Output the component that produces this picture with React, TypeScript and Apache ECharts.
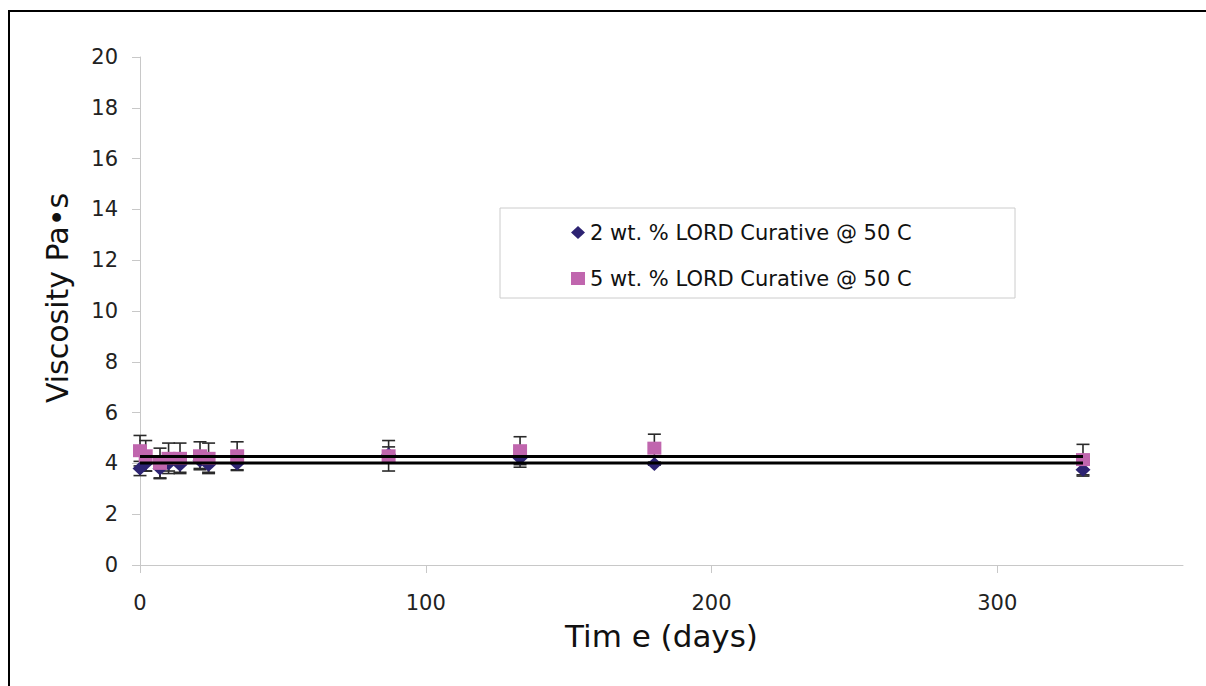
import React, { useEffect, useRef } from "react";
import * as echarts from "echarts";

// ---- data ----
const days = [0, 2, 7, 10, 14, 21, 24, 34, 87, 133, 180, 330];
const visc2 = [3.8, 4.0, 3.8, 4.0, 3.95, 4.1, 3.95, 4.0, 4.35, 4.2, 3.98, 3.75];
const err2 = [0.28, 0.3, 0.37, 0.3, 0.3, 0.3, 0.3, 0.28, 0.3, 0.35, 0.05, 0.25];
const visc5 = [4.5, 4.3, 4.0, 4.2, 4.2, 4.3, 4.2, 4.3, 4.3, 4.5, 4.6, 4.15];
const err5 = [0.6, 0.6, 0.6, 0.6, 0.6, 0.55, 0.6, 0.55, 0.6, 0.55, 0.55, 0.6];
const trendDays = [0, 330];
const trend2 = [4.02, 4.02];
const trend5 = [4.27, 4.27];
const xTicks = [0, 100, 200, 300];
const name2 = "2 wt. % LORD Curative @ 50 C";
const name5 = "5 wt. % LORD Curative @ 50 C";

const FONT = '"DejaVu Sans", "Liberation Sans", sans-serif';
const NAVY = "#2D2372";
const PINK = "#C066AE";

function errorSeries(id: string, vals: number[], errs: number[]) {
  return {
    type: "custom",
    id,
    z: 3,
    silent: true,
    data: days.map((d, i) => [d, vals[i] - errs[i], vals[i] + errs[i]]),
    encode: { x: 0, y: [1, 2] },
    renderItem: (_p: any, api: any) => {
      const x = api.value(0);
      const lo = api.coord([x, api.value(1)]);
      const hi = api.coord([x, api.value(2)]);
      const h = 6.5;
      const st = { stroke: "#2a2a2a", lineWidth: 1.6 };
      return {
        type: "group",
        children: [
          { type: "line", shape: { x1: lo[0], y1: lo[1], x2: hi[0], y2: hi[1] }, style: st },
          { type: "line", shape: { x1: lo[0] - h, y1: lo[1], x2: lo[0] + h, y2: lo[1] }, style: st },
          { type: "line", shape: { x1: hi[0] - h, y1: hi[1], x2: hi[0] + h, y2: hi[1] }, style: st },
        ],
      };
    },
  };
}

export default function App() {
  const ref = useRef<HTMLDivElement>(null);
  useEffect(() => {
    if (!ref.current) return;
    const chart = echarts.init(ref.current, undefined, { renderer: "svg" });
    chart.setOption({
      animation: false,
      backgroundColor: "#ffffff",
      grid: { left: 140, top: 57, right: 23, bottom: 121, containLabel: false },
      xAxis: {
        type: "value",
        min: 0,
        max: 365,
        name: "Tim e (days)",
        nameLocation: "middle",
        nameGap: 55,
        nameTextStyle: { fontFamily: FONT, fontSize: 31, color: "#111" },
        axisLine: { show: true, lineStyle: { color: "#c8c8c8", width: 1 } },
        axisTick: { show: true, length: 8, customValues: xTicks, lineStyle: { color: "#c8c8c8" } },
        axisLabel: { customValues: xTicks, margin: 27, fontFamily: FONT, fontSize: 21, color: "#222" },
        splitLine: { show: false },
      },
      yAxis: {
        type: "value",
        min: 0,
        max: 20,
        interval: 2,
        name: "Viscosity Pa•s",
        nameLocation: "middle",
        nameGap: 68,
        nameRotate: 90,
        nameTextStyle: { fontFamily: FONT, fontSize: 30, color: "#111", padding: [0, 0, 0, 26] },
        axisLine: { show: true, lineStyle: { color: "#c8c8c8", width: 1 } },
        axisTick: { show: true, length: 8, lineStyle: { color: "#c8c8c8" } },
        axisLabel: { margin: 22, fontFamily: FONT, fontSize: 21, color: "#222" },
        splitLine: { show: false },
      },
      legend: {
        orient: "vertical",
        left: 566,
        top: 217,
        itemGap: 25,
        itemWidth: 14,
        itemHeight: 13,
        data: [
          { name: name2, icon: "diamond" },
          { name: name5, icon: "rect" },
        ],
        textStyle: { fontFamily: FONT, fontSize: 21, color: "#111", lineHeight: 20 },
        selectedMode: false,
      },
      graphic: [
        {
          type: "rect",
          z: 0,
          shape: { x: 500, y: 208, width: 515, height: 90 },
          style: { fill: "#ffffff", stroke: "#cccccc", lineWidth: 1 },
        },
        {
          type: "polyline",
          z: 10,
          shape: { points: [[9, 686], [9, 11], [1206, 11]] },
          style: { stroke: "#000", lineWidth: 2, fill: "none" },
        },
      ],
      series: [
        errorSeries("err2", visc2, err2),
        errorSeries("err5", visc5, err5),
        {
          type: "scatter",
          name: name2,
          z: 4,
          symbol: "diamond",
          symbolSize: [15, 14],
          itemStyle: { color: NAVY, opacity: 1 },
          data: days.map((d, i) => [d, visc2[i]]),
        },
        {
          type: "scatter",
          name: name5,
          z: 5,
          symbol: "rect",
          symbolSize: [14, 13],
          itemStyle: { color: PINK, opacity: 1 },
          data: days.map((d, i) => [d, visc5[i]]),
        },
        {
          type: "line",
          name: "trend2",
          z: 6,
          symbol: "none",
          silent: true,
          lineStyle: { color: "#000", width: 3 },
          data: trendDays.map((d, i) => [d, trend2[i]]),
        },
        {
          type: "line",
          name: "trend5",
          z: 6,
          symbol: "none",
          silent: true,
          lineStyle: { color: "#000", width: 3 },
          data: trendDays.map((d, i) => [d, trend5[i]]),
        },
      ],
    });
    return () => chart.dispose();
  }, []);
  return (
    <div
      ref={ref}
      style={{ position: "absolute", left: 0, top: 0, width: 1206, height: 686 }}
    />
  );
}
